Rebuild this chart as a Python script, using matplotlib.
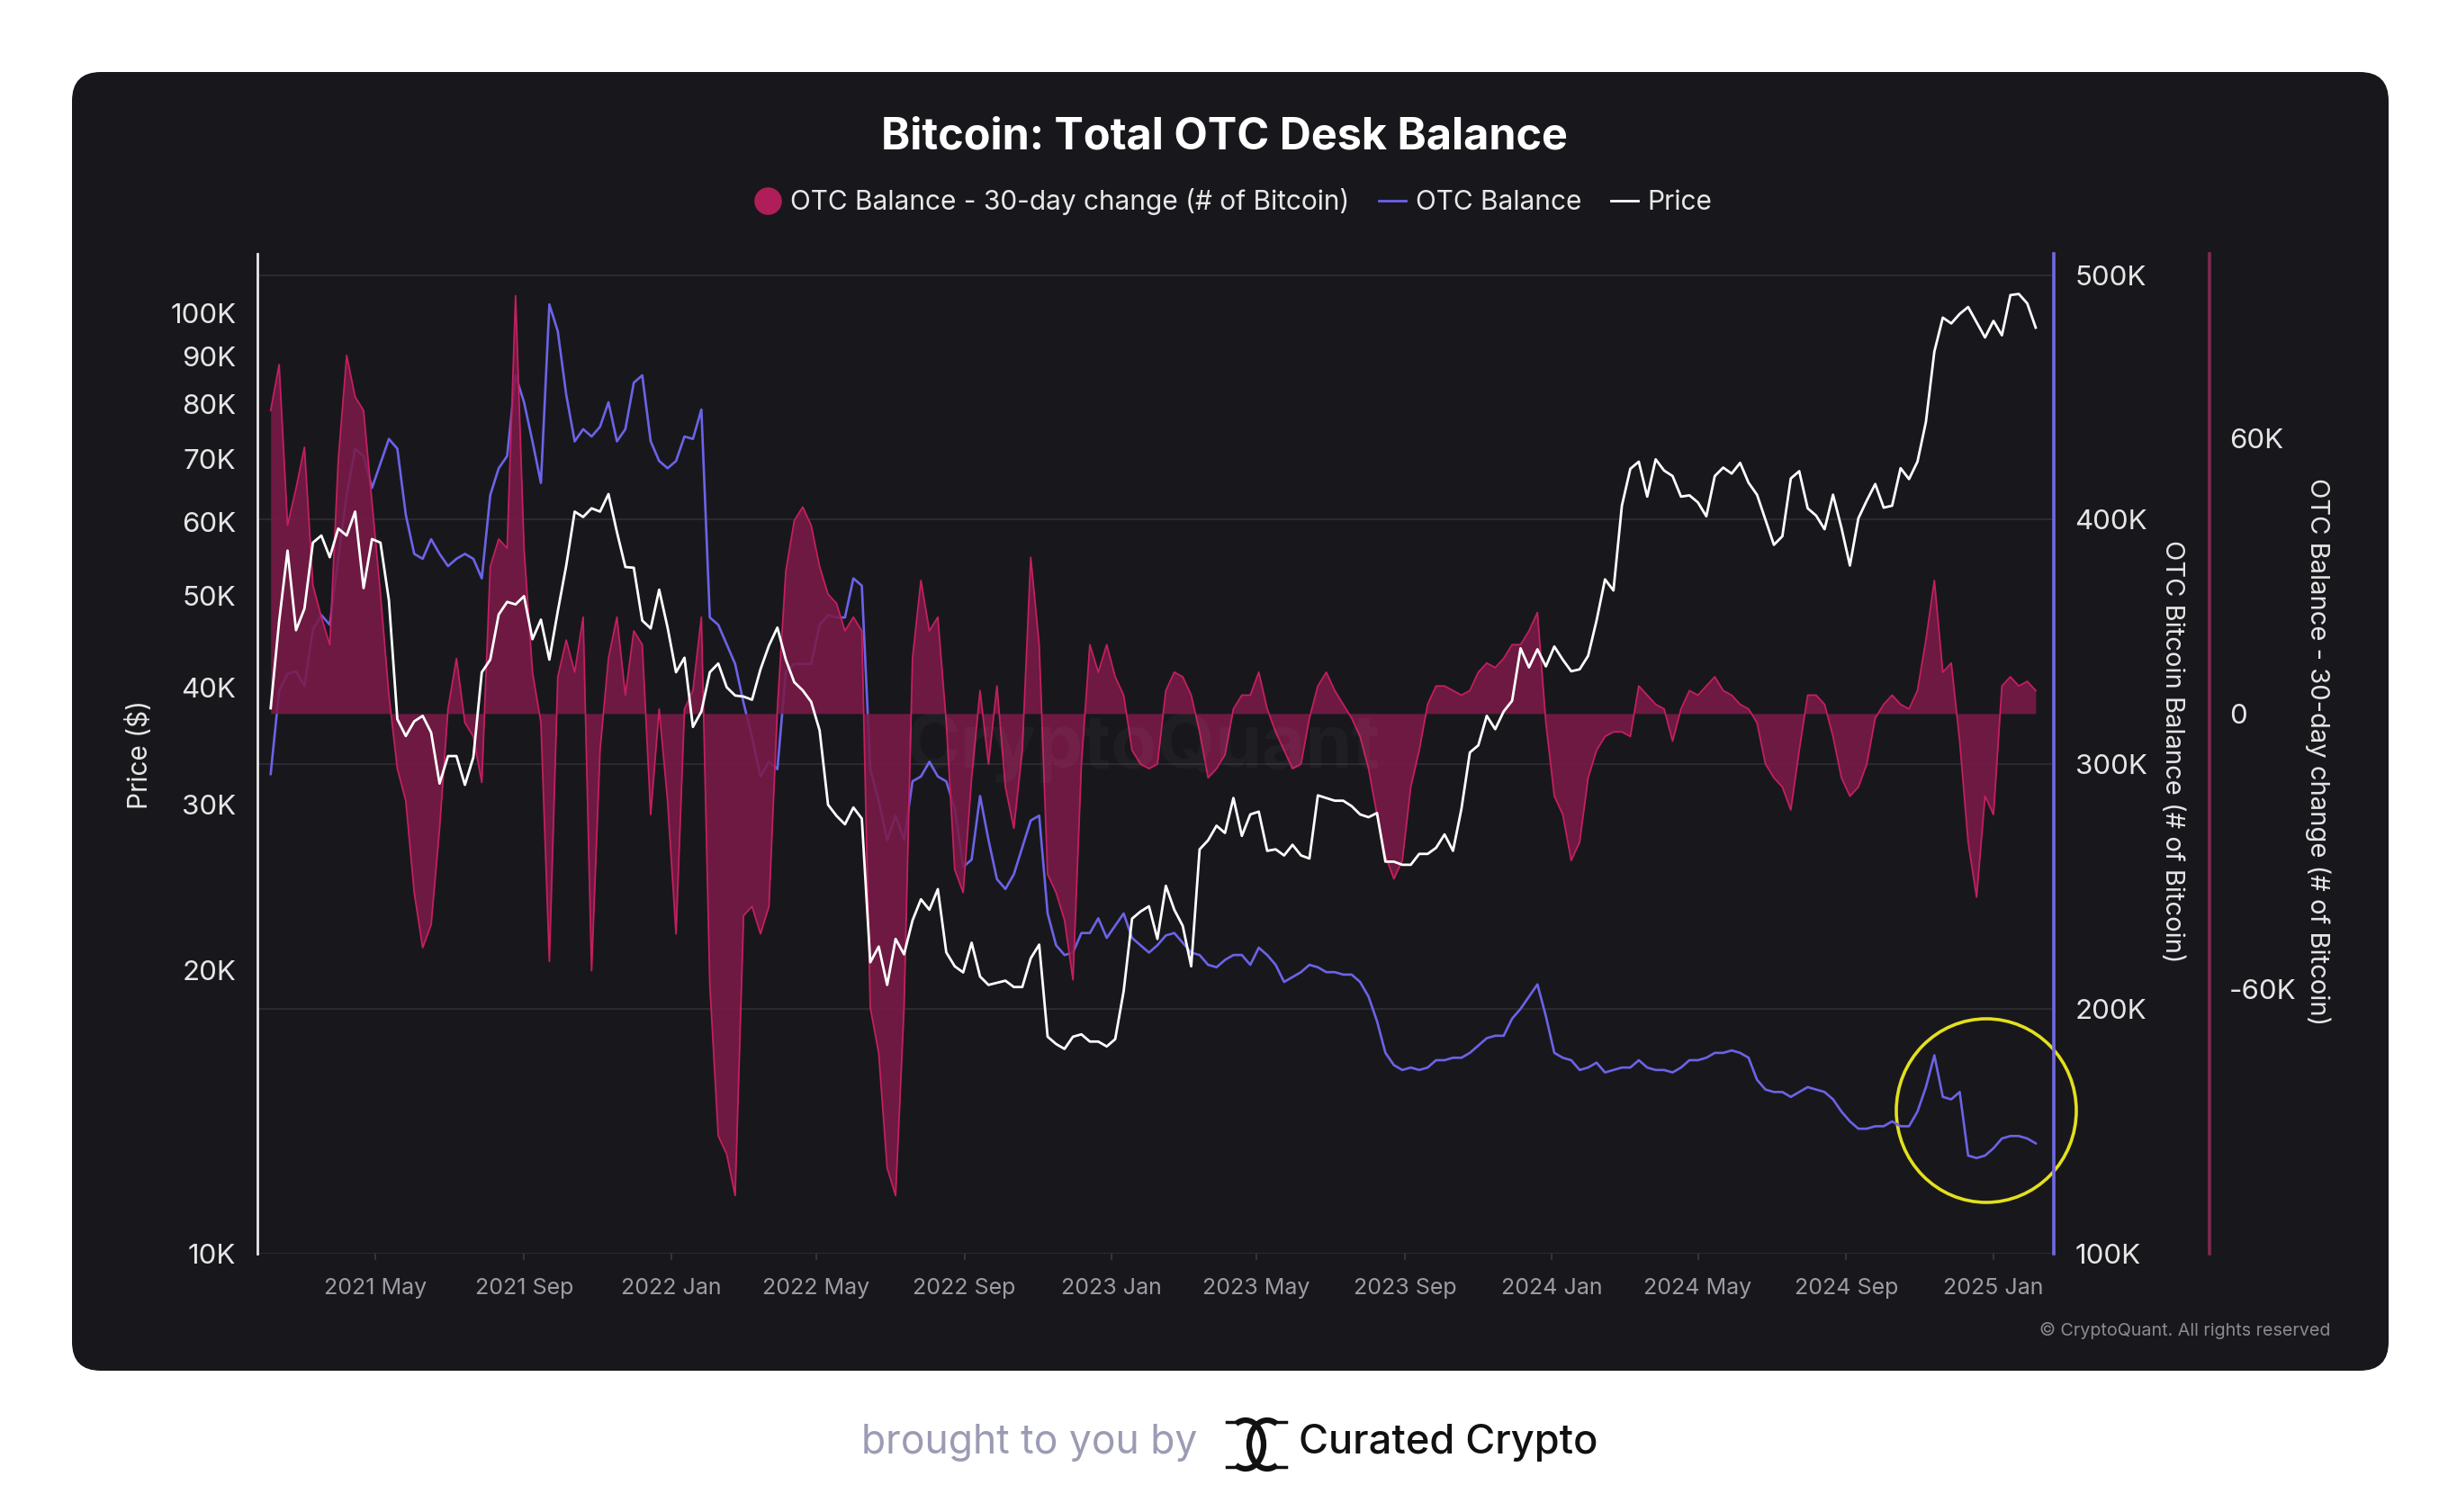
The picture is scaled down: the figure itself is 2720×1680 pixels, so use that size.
import matplotlib
matplotlib.use("Agg")
from matplotlib import pyplot as plt
from matplotlib.patches import FancyBboxPatch, Ellipse, Arc
from matplotlib.lines import Line2D
import matplotlib.dates as mdates
from matplotlib.ticker import NullLocator
import numpy as np
import pandas as pd

plt.rcParams['font.family'] = ['Inter', 'DejaVu Sans']

# weekly samples, first one on 2021-02-03
start_date = '2021-02-03'

price = [
    38000, 47000, 55900, 46000, 48500, 57000, 58000, 55000, 59000, 58000,
    61500, 51000, 57500, 57000, 49500, 37000, 35500, 36800, 37300, 35800,
    31600, 33800, 33800, 31500, 33700, 41500, 42800, 47800, 49300, 49000,
    50000, 45000, 47200, 42800, 48200, 53900, 61500, 60700, 62000, 61500,
    64200, 58500, 53700, 53600, 47100, 46200, 50800, 46300,
    41500, 43000, 36300, 37700, 41500, 42400, 40000, 39200, 39100, 38800,
    41800, 44300, 46300, 42800, 40500, 39700, 38600, 36000, 30000, 29200,
    28600, 29800, 29000, 20400, 21200, 19300, 21600, 20800, 22600, 23800,
    23200, 24400, 20900, 20200, 19900, 21400, 19700, 19300, 19400, 19500,
    19200, 19200, 20600, 21300, 17000, 16700, 16500, 17000, 17100, 16800,
    16800, 16600,
    16900, 19000, 22700, 23100, 23400, 21600, 24600, 23200, 22300, 20200,
    26900, 27500, 28500, 28000, 30500, 27800, 29300, 29500, 26800, 26900,
    26500, 27200, 26500, 26300, 30700, 30500, 30300, 30300, 29900, 29300,
    29100, 29400, 26100, 26100, 25900, 25900, 26600, 26600, 27000, 27900,
    26800, 29700, 34100, 34700, 37300, 36100, 37700, 38700, 44000, 42000,
    43900, 42100,
    44200, 42800, 41600, 41800, 43200, 47100, 52100, 50700, 62400, 68300,
    69500, 63800, 69900, 68000, 67100, 63800, 64000, 62900, 60800, 67100,
    68500, 67500, 69300, 66000, 64100, 60300, 56700, 57900, 66700, 67900,
    62000, 60900, 58900, 64100, 59100, 53900, 60500, 63200, 65800, 62100,
    62400, 68400, 66600, 69500, 76600, 91000, 98900, 97500, 99800, 101500,
    97800, 94200,
    98100, 94700, 104500, 104800, 102400, 96500,
]

# OTC balance, thousands of BTC
otc_balance = [
    296, 330, 337, 338, 332, 355, 361, 357, 384, 410,
    429, 426, 413, 423, 433, 429, 402, 386, 384, 392,
    386, 381, 384, 386, 384, 376, 410, 421, 426, 459,
    448, 432, 415, 488, 477, 451, 432, 437, 434, 438,
    448, 432, 437, 456, 459, 432, 424, 421, 424, 434,
    433, 445, 360, 357,
    349, 341, 325, 311, 295, 301, 298, 338, 341, 341,
    341, 357, 361, 360, 360, 376, 373, 298, 285, 269,
    279, 269, 293, 295, 301, 295, 293, 282, 258, 261,
    287, 269, 253, 249, 255, 266, 277, 279, 239, 226,
    222, 223, 231, 231, 237, 229, 234, 239, 229, 226,
    223,
    226, 230, 231, 227, 223, 222, 218, 217, 220, 222,
    222, 218, 225, 222, 218, 211, 213, 215, 218, 217,
    215, 215, 214, 214, 211, 205, 195, 182, 177, 175,
    176, 175, 176, 179, 179, 180, 180, 182, 185, 188,
    189, 189, 196, 200, 205, 210, 197, 182, 180, 179,
    175, 176, 178,
    174, 175, 176, 176, 179, 176, 175, 175, 174, 176,
    179, 179, 180, 182, 182, 183, 182, 180, 171, 167,
    166, 166, 164, 166, 168, 167, 166, 163, 158, 154,
    151, 151, 152, 152, 154, 152, 152, 158, 168, 181,
    164, 163, 166, 140, 139, 140, 143, 147, 148, 148,
    147, 145,
]

# 30-day change of the OTC balance, thousands of BTC
otc_change = [
    66, 76, 41, 49, 58, 28, 21, 15, 55, 78,
    69, 66, 46, 26, 4, -12, -19, -39, -51, -46,
    -25, 1, 12, -2, -5, -15, 32, 38, 36, 91,
    36, 9, -2, -54, 8, 16, 9, 21, -56, -8,
    12, 21, 4, 18, 15, -22, 1, -19, -48, 1,
    5, 21, -59, -92,
    -96, -105, -44, -42, -48, -42, 1, 31, 42, 45,
    41, 32, 26, 24, 18, 21, 18, -64, -74, -99,
    -105, -64, 12, 29, 18, 21, -2, -34, -39, -14,
    5, -11, 6, -16, -25, -8, 34, 15, -35, -39,
    -45, -58, -11, 15, 9, 15, 8, 4, -8, -11,
    -12,
    -11, 5, 9, 8, 4, -4, -14, -12, -9, 1,
    4, 4, 9, 1, -4, -8, -12, -11, -1, 6,
    9, 5, 2, -1, -5, -12, -22, -31, -36, -32,
    -16, -8, 2, 6, 6, 5, 4, 5, 9, 11,
    10, 12, 15, 15, 18, 22, -2, -18, -22, -32,
    -28, -14, -8,
    -5, -4, -4, -5, 6, 4, 2, 1, -6, 1,
    5, 4, 6, 8, 5, 4, 2, 1, -2, -11,
    -14, -16, -21, -8, 4, 4, 2, -5, -14, -18,
    -16, -11, -1, 2, 4, 2, 1, 5, 16, 29,
    9, 11, -6, -28, -40, -18, -22, 6, 8, 6,
    7, 5,
]

price_ticks = [10000, 20000, 30000, 40000, 50000, 60000, 70000, 80000, 90000, 100000]
price_labels = ['10K', '20K', '30K', '40K', '50K', '60K', '70K', '80K', '90K', '100K']
balance_ticks = [100, 200, 300, 400, 500]
balance_labels = ['100K', '200K', '300K', '400K', '500K']
change_ticks = [-60, 0, 60]
change_labels = ['-60K', '0', '60K']
month_ticks = ['2021-05-01', '2021-09-01', '2022-01-01', '2022-05-01', '2022-09-01',
               '2023-01-01', '2023-05-01', '2023-09-01', '2024-01-01', '2024-05-01',
               '2024-09-01', '2025-01-01']

dates = pd.date_range(start_date, periods=len(price), freq='7D')

BG = '#18181c'
BLUE = '#6c63e8'
RED_FILL = '#7a1a48'
RED_LINE = '#c41f60'
W, H = 2720, 1680

fig = plt.figure(figsize=(W / 100, H / 100), dpi=100, facecolor='white')

panel = FancyBboxPatch((0.80, 1.57), 25.74, 14.43,
                       boxstyle='round,pad=0,rounding_size=0.32',
                       transform=fig.dpi_scale_trans, facecolor=BG, edgecolor='none')
fig.add_artist(panel)

ax = fig.add_axes([286 / W, 1 - 1392.7 / H, (2282 - 286) / W, (1392.7 - 281.7) / H])
ax_bal = ax.twinx()
ax_chg = ax.twinx()
ax_bal.set_zorder(1)
ax_chg.set_zorder(2)
ax.set_zorder(3)
for a in (ax, ax_bal, ax_chg):
    a.patch.set_visible(False)
    for s in a.spines.values():
        s.set_visible(False)

# OTC balance
ax_bal.plot(dates, otc_balance, color=BLUE, lw=1.9)
ax_bal.set_ylim(100, 508.8)
ax_bal.set_yticks(balance_ticks)
ax_bal.set_yticklabels(balance_labels)
ax_bal.yaxis.grid(True, color='#2c2c33', lw=1.3)
ax_bal.tick_params(axis='y', length=0, pad=17, labelsize=22.5, labelcolor='#e6e6e6')
ax_bal.spines['right'].set_visible(True)
ax_bal.spines['right'].set_color('#7169e0')
ax_bal.spines['right'].set_linewidth(2.6)

# 30-day change
chg = np.array(otc_change, dtype=float)
ax_chg.fill_between(dates, 0, chg, color=RED_FILL, alpha=0.88, lw=0)
ax_chg.plot(dates, chg, color=RED_LINE, lw=1.3)
ax_chg.set_ylim(-117.6, 100.2)
ax_chg.set_yticks(change_ticks)
ax_chg.set_yticklabels(change_labels)
ax_chg.tick_params(axis='y', length=0, pad=16, labelsize=22.5, labelcolor='#e6e6e6')
ax_chg.spines['right'].set_visible(True)
ax_chg.spines['right'].set_position(('outward', 173 * 0.72))
ax_chg.spines['right'].set_color('#7e2a4e')
ax_chg.spines['right'].set_linewidth(2.6)

# price
ax.plot(dates, price, color='white', lw=2.0)
ax.set_yscale('log')
ax.set_ylim(10000, 115700)
ax.set_yticks(price_ticks)
ax.set_yticklabels(price_labels)
ax.yaxis.set_minor_locator(NullLocator())
ax.tick_params(axis='y', length=0, pad=17, labelsize=22.5, labelcolor='#e6e6e6')
ax.spines['left'].set_visible(True)
ax.spines['left'].set_color('#e8e8e8')
ax.spines['left'].set_linewidth(2.0)

ax.set_xlim(pd.Timestamp('2021-01-23'), pd.Timestamp('2025-02-20'))
ax.set_xticks(pd.to_datetime(month_ticks))
ax.xaxis.set_major_formatter(mdates.DateFormatter('%Y %b'))
ax.tick_params(axis='x', length=5, width=1.2, color='#3a3a42', pad=15,
               labelsize=18, labelcolor='#9c9ca4')
for a in (ax_bal, ax_chg):
    a.tick_params(axis='x', bottom=False, labelbottom=False)

# axis titles
fig.text(155 / W, 0.501, 'Price ($)', rotation=90, ha='center', va='center',
         color='#e6e6e6', fontsize=21.5)
fig.text(2413 / W, 0.503, 'OTC Bitcoin Balance (# of Bitcoin)', rotation=270,
         ha='center', va='center', color='#e6e6e6', fontsize=21)
fig.text(2575 / W, 0.503, 'OTC Balance - 30-day change (# of Bitcoin)', rotation=270,
         ha='center', va='center', color='#e6e6e6', fontsize=21)

# title and legend
fig.text(0.5, 1 - 153 / H, 'Bitcoin: Total OTC Desk Balance', ha='center', va='center',
         color='white', fontsize=35, fontweight='bold')
handles = [
    Line2D([], [], marker='o', linestyle='', markersize=21, color='#b01e5a'),
    Line2D([], [], color=BLUE, lw=2),
    Line2D([], [], color='white', lw=2),
]
labels = ['OTC Balance - 30-day change (# of Bitcoin)', 'OTC Balance', 'Price']
fig.legend(handles, labels, loc='center', bbox_to_anchor=(1370 / W, 1 - 224 / H), ncol=3,
           frameon=False, fontsize=21.5, labelcolor='#e8e8e8', handlelength=1.0,
           handletextpad=0.35, columnspacing=1.1)

# faint watermark and copyright
fig.text(1269 / W, 1 - 831 / H, 'CryptoQuant', ha='center', va='center', color='white',
         alpha=0.03, fontsize=60, fontweight='bold')
fig.text(2589 / W, 1 - 1478 / H, '\u00a9 CryptoQuant. All rights reserved', ha='right',
         va='center', color='#8a8a92', fontsize=14.2)

# highlight circle
fig.add_artist(Ellipse((2207 / W, 1 - 1234 / H), 200 / W, 204 / H, transform=fig.transFigure,
                       fill=False, edgecolor='#e3e01e', lw=2.6))

# footer
fig.text(957 / W, 1 - 1603 / H, 'brought to you by', ha='left', va='center',
         color='#9b9bb4', fontsize=32)
# logo: two interlocking open rings
logo_y = (H - 1605) / 100
fig.add_artist(Arc((13.84, logo_y), 0.40, 0.54, theta1=-115, theta2=115,
                   transform=fig.dpi_scale_trans, color='#111111', lw=4.5))
fig.add_artist(Arc((14.08, logo_y), 0.40, 0.54, theta1=65, theta2=295,
                   transform=fig.dpi_scale_trans, color='#111111', lw=4.5))
for xs, ys in (((13.63, 13.78), (logo_y + 0.25, logo_y + 0.25)),
               ((13.63, 13.78), (logo_y - 0.25, logo_y - 0.25)),
               ((14.14, 14.29), (logo_y + 0.25, logo_y + 0.25)),
               ((14.14, 14.29), (logo_y - 0.25, logo_y - 0.25))):
    fig.add_artist(Line2D(xs, ys, transform=fig.dpi_scale_trans, color='#111111', lw=2.5))
fig.text(1443 / W, 1 - 1603 / H, 'Curated Crypto', ha='left', va='center',
         color='#111111', fontsize=32.5, fontweight='medium')

fig.savefig('out.png', dpi=100, facecolor='white')
